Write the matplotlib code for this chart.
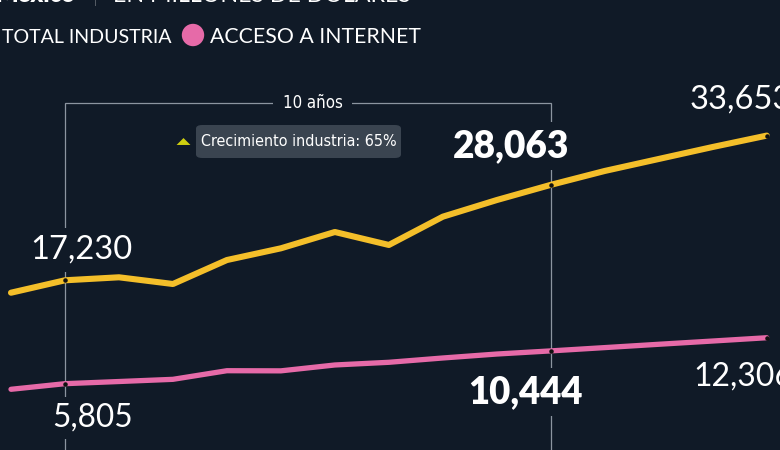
import matplotlib
matplotlib.use("Agg")
import matplotlib.pyplot as plt
from matplotlib.patches import FancyBboxPatch
from matplotlib import font_manager as fm
from matplotlib.font_manager import FontProperties

# ---- data ----
years = list(range(2009, 2024))
total_industria = [15820, 17230, 17570, 16810, 19530, 20860, 22710, 21240,
                   24450, 26340, 28063, 29640, 31000, 32360, 33653]
acceso_internet = [5010, 5805, 6110, 6420, 7640, 7620, 8450, 8830,
                   9440, 10000, 10444, 10910, 11380, 11840, 12306]
label_idx = [1, 10, 14]
title_bold = "México"
title_sep = "|"
title_rest = "EN MILLONES DE DÓLARES"
legend_labels = ["TOTAL INDUSTRIA", "ACCESO A INTERNET"]
bracket_text = "10 años"
growth_text = "Crecimiento industria: 65%"

BG = "#101a27"
YEL = "#f4bf2a"
PINK = "#e66aa8"
GRAY = "#8c95a0"
W, H = 780, 450

names = {f.name for f in fm.fontManager.ttflist}
LIGHT = "Lato" if "Lato" in names else "DejaVu Sans"

STRETCH = {"ultra-condensed": 100, "extra-condensed": 200, "condensed": 300,
           "semi-condensed": 400, "normal": 500}


def stretch_num(f):
    s = f.stretch
    if isinstance(s, str):
        return STRETCH.get(s, 500)
    return s


def wnum(f):
    w = f.weight
    if isinstance(w, str):
        return {"normal": 400, "regular": 400, "book": 400, "medium": 500,
                "light": 300, "bold": 700}.get(w, 400)
    return w


cands = []
for f in fm.fontManager.ttflist:
    sn = stretch_num(f)
    narrow_name = ("Narrow" in f.name) or ("Condensed" in f.name)
    if (sn < 500 or narrow_name) and f.style == "normal":
        eff = sn if sn < 500 else 300
        cands.append((abs(eff - 300), abs(wnum(f) - 450), f.fname))
if cands:
    cands.sort()
    NARROW_FP = FontProperties(fname=cands[0][2])
else:
    NARROW_FP = FontProperties(family="DejaVu Sans")

fig = plt.figure(figsize=(W / 100, H / 100), dpi=100, facecolor=BG)
ax = fig.add_axes([0, 0, 1, 1], facecolor=BG)
ax2 = ax.twinx()
for a in (ax, ax2):
    a.set_axis_off()

# x mapping: pixel = 11 + i*53.98
step = 53.98
x0 = years[0] - 11 / step
x1 = years[0] + (W - 11) / step
ax.set_xlim(x0, x1)
ax2.set_xlim(x0, x1)
ax.set_ylim(-2032, 49043)
ax2.set_ylim(-3580, 60095)


def fx(px):
    return px / W


def fy(py):
    return 1 - py / H


fits = []  # (text, target width px)

# bracket
ya = fy(103)
bt = ax.get_xaxis_transform()
ax.plot([years[1], years[1], years[10], years[10]], [0, ya, ya, 0],
        color=GRAY, lw=0.9, transform=bt, zorder=1, solid_joinstyle="miter")
t = ax.text(fx(312.5), ya, bracket_text, transform=ax.transAxes,
            ha="center", va="center", color="white",
            fontproperties=NARROW_FP, zorder=3,
            bbox=dict(boxstyle="square,pad=0.6", fc=BG, ec="none"))
t.set_fontsize(14)
fits.append((t, 60))

# lines
ax.plot(years, total_industria, color=YEL, lw=4.4, solid_capstyle="round",
        solid_joinstyle="round", zorder=5)
ax2.plot(years, acceso_internet, color=PINK, lw=3.8, solid_capstyle="round",
         solid_joinstyle="round", zorder=5)
ax.scatter([years[i] for i in label_idx], [total_industria[i] for i in label_idx],
           s=5, color="#111111", zorder=6)
ax2.scatter([years[i] for i in label_idx], [acceso_internet[i] for i in label_idx],
            s=5, color="#111111", zorder=6)

# value labels (pixel positions)
lab_bbox = dict(boxstyle="square,pad=0.2", fc=BG, ec="none")


def vlabel(px, py, s, bold, ha="center", width=None, box=True):
    tt = ax.text(fx(px), fy(py), s, transform=ax.transAxes, ha=ha, va="center",
                 color="white", fontsize=23, family=LIGHT,
                 fontweight="heavy" if bold else "normal", zorder=4,
                 bbox=lab_bbox if box else None)
    if width:
        fits.append((tt, width))
    return tt


vlabel(81, 250, f"{total_industria[1]:,}", False, width=102)
vlabel(511.5, 146, f"{total_industria[10]:,}", True, width=117)
vlabel(690, 100, f"{total_industria[14]:,}", False, ha="left", width=102, box=False)
vlabel(92.5, 418, f"{acceso_internet[1]:,}", False, width=81)
vlabel(525.5, 392, f"{acceso_internet[10]:,}", True, width=115)
vlabel(693, 377, f"{acceso_internet[14]:,}", False, ha="left", width=100, box=False)

# growth tooltip
box = FancyBboxPatch((fx(196), fy(158)), fx(401) - fx(196), fy(125) - fy(158),
                     boxstyle="round,pad=0,rounding_size=0.008",
                     transform=ax.transAxes, fc="#3a4450", ec="none", zorder=3)
ax.add_patch(box)
t = ax.text(fx(298.5), fy(141.5), growth_text, transform=ax.transAxes, ha="center",
            va="center", color="white", fontproperties=NARROW_FP, zorder=4)
t.set_fontsize(14)
fits.append((t, 198))
tri = [(-1.0, -0.5), (1.0, -0.5), (0.0, 0.5), (-1.0, -0.5)]
ax.scatter([fx(183)], [fy(141)], marker=tri, s=100, color="#cfcf10",
           transform=ax.transAxes, zorder=4, linewidths=0)

# title (clipped at top)
fig.text(fx(75), fy(2.5), title_bold, ha="right", va="baseline", color="white",
         fontsize=17, family=LIGHT, fontweight="heavy")
fig.text(fx(95), fy(2.5), title_sep, ha="center", va="baseline", color="white",
         fontsize=17, family=LIGHT, fontweight="light")
t = fig.text(fx(113), fy(2.5), title_rest, ha="left", va="baseline", color="white",
             fontsize=17, family=LIGHT, fontweight="normal")
fits.append((t, 297))

# legend
t = fig.text(fx(1.5), fy(43), legend_labels[0], ha="left", va="baseline",
             color="white", fontsize=16.5, family=LIGHT, fontweight="normal")
fits.append((t, 171))
ax.scatter([fx(-17), fx(193)], [fy(35), fy(35)], s=260, color=[YEL, PINK],
           transform=ax.transAxes, zorder=4, linewidths=0, clip_on=False)
t = fig.text(fx(210), fy(43), legend_labels[1], ha="left", va="baseline",
             color="white", fontsize=16.5, family=LIGHT, fontweight="normal")
fits.append((t, 211))

# fit text widths to the reference
fig.canvas.draw()
r = fig.canvas.get_renderer()
for tt, target in fits:
    wpx = tt.get_window_extent(r).width
    if wpx > 0:
        tt.set_fontsize(tt.get_fontsize() * target / wpx)

fig.savefig("out.png", dpi=100, facecolor=BG)
